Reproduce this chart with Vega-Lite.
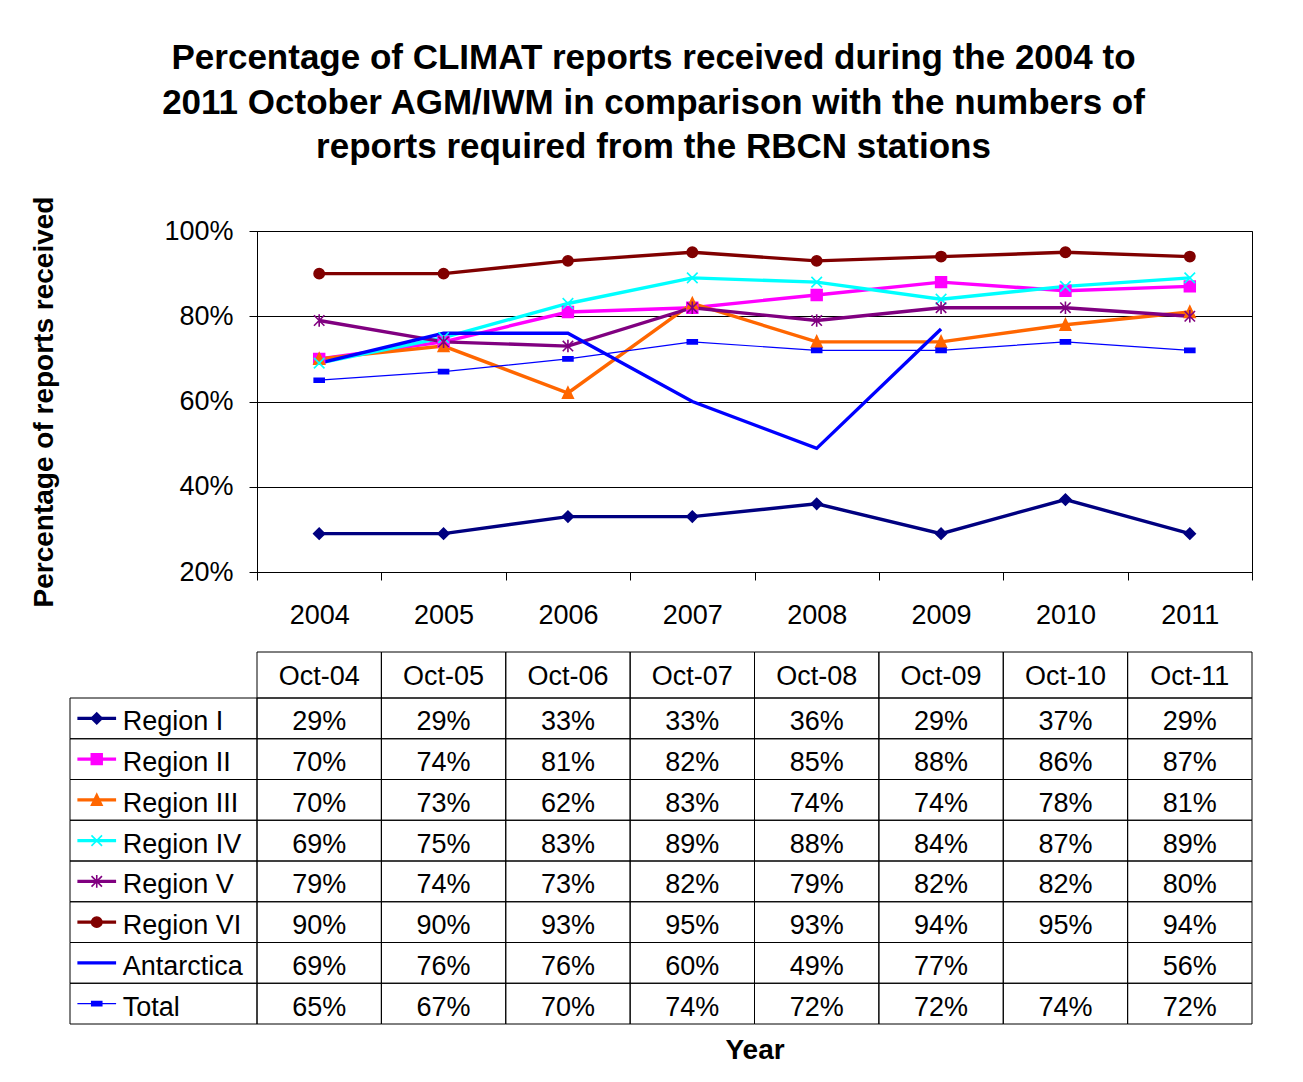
{
  "$schema": "https://vega.github.io/schema/vega-lite/v6.json",
  "width": 995,
  "height": 341,
  "autosize": {"type": "none"},
  "padding": {"left": 257, "top": 231, "right": 51, "bottom": 510},
  "background": "white",
  "title": {
    "text": ["Percentage of CLIMAT reports received during the 2004 to", "2011 October AGM/IWM in comparison with the numbers of", "reports required from the RBCN stations"],
    "font": "Liberation Sans",
    "fontSize": 35,
    "fontWeight": "bold",
    "color": "#000",
    "lineHeight": 44.5,
    "anchor": "middle",
    "dx": -101,
    "offset": 31
  },
  "config": {
    "font": "Liberation Sans",
    "view": {"stroke": "#000", "strokeWidth": 1}
  },
  "datasets": {
    "vals": [
      {"region": "Region I", "year": "2004", "value": 0.29},
      {"region": "Region I", "year": "2005", "value": 0.29},
      {"region": "Region I", "year": "2006", "value": 0.33},
      {"region": "Region I", "year": "2007", "value": 0.33},
      {"region": "Region I", "year": "2008", "value": 0.36},
      {"region": "Region I", "year": "2009", "value": 0.29},
      {"region": "Region I", "year": "2010", "value": 0.37},
      {"region": "Region I", "year": "2011", "value": 0.29},
      {"region": "Region II", "year": "2004", "value": 0.70},
      {"region": "Region II", "year": "2005", "value": 0.74},
      {"region": "Region II", "year": "2006", "value": 0.81},
      {"region": "Region II", "year": "2007", "value": 0.82},
      {"region": "Region II", "year": "2008", "value": 0.85},
      {"region": "Region II", "year": "2009", "value": 0.88},
      {"region": "Region II", "year": "2010", "value": 0.86},
      {"region": "Region II", "year": "2011", "value": 0.87},
      {"region": "Region III", "year": "2004", "value": 0.70},
      {"region": "Region III", "year": "2005", "value": 0.73},
      {"region": "Region III", "year": "2006", "value": 0.62},
      {"region": "Region III", "year": "2007", "value": 0.83},
      {"region": "Region III", "year": "2008", "value": 0.74},
      {"region": "Region III", "year": "2009", "value": 0.74},
      {"region": "Region III", "year": "2010", "value": 0.78},
      {"region": "Region III", "year": "2011", "value": 0.81},
      {"region": "Region IV", "year": "2004", "value": 0.69},
      {"region": "Region IV", "year": "2005", "value": 0.75},
      {"region": "Region IV", "year": "2006", "value": 0.83},
      {"region": "Region IV", "year": "2007", "value": 0.89},
      {"region": "Region IV", "year": "2008", "value": 0.88},
      {"region": "Region IV", "year": "2009", "value": 0.84},
      {"region": "Region IV", "year": "2010", "value": 0.87},
      {"region": "Region IV", "year": "2011", "value": 0.89},
      {"region": "Region V", "year": "2004", "value": 0.79},
      {"region": "Region V", "year": "2005", "value": 0.74},
      {"region": "Region V", "year": "2006", "value": 0.73},
      {"region": "Region V", "year": "2007", "value": 0.82},
      {"region": "Region V", "year": "2008", "value": 0.79},
      {"region": "Region V", "year": "2009", "value": 0.82},
      {"region": "Region V", "year": "2010", "value": 0.82},
      {"region": "Region V", "year": "2011", "value": 0.80},
      {"region": "Region VI", "year": "2004", "value": 0.90},
      {"region": "Region VI", "year": "2005", "value": 0.90},
      {"region": "Region VI", "year": "2006", "value": 0.93},
      {"region": "Region VI", "year": "2007", "value": 0.95},
      {"region": "Region VI", "year": "2008", "value": 0.93},
      {"region": "Region VI", "year": "2009", "value": 0.94},
      {"region": "Region VI", "year": "2010", "value": 0.95},
      {"region": "Region VI", "year": "2011", "value": 0.94},
      {"region": "Antarctica", "year": "2004", "value": 0.69},
      {"region": "Antarctica", "year": "2005", "value": 0.76},
      {"region": "Antarctica", "year": "2006", "value": 0.76},
      {"region": "Antarctica", "year": "2007", "value": 0.60},
      {"region": "Antarctica", "year": "2008", "value": 0.49},
      {"region": "Antarctica", "year": "2009", "value": 0.77},
      {"region": "Antarctica", "year": "2010", "value": null},
      {"region": "Antarctica", "year": "2011", "value": 0.56},
      {"region": "Total", "year": "2004", "value": 0.65},
      {"region": "Total", "year": "2005", "value": 0.67},
      {"region": "Total", "year": "2006", "value": 0.70},
      {"region": "Total", "year": "2007", "value": 0.74},
      {"region": "Total", "year": "2008", "value": 0.72},
      {"region": "Total", "year": "2009", "value": 0.72},
      {"region": "Total", "year": "2010", "value": 0.74},
      {"region": "Total", "year": "2011", "value": 0.72}
    ]
  },
  "data": {"name": "vals"},
  "resolve": {"scale": {"x": "independent", "y": "independent"}},
  "layer": [
    {
      "encoding": {
        "x": {
          "field": "year", "type": "nominal", "bandPosition": 0.5,
          "scale": {"type": "band", "domain": ["2004","2005","2006","2007","2008","2009","2010","2011"], "paddingInner": 0, "paddingOuter": 0},
          "axis": {
            "title": "Year", "labelAngle": 0, "labelFont": "Liberation Sans", "labelFontSize": 27, "labelColor": "#000",
            "tickBand": "extent", "tickSize": 8, "tickColor": "#000", "domainColor": "#000", "labelPadding": 22,
            "titleFont": "Liberation Sans", "titleFontSize": 28, "titleFontWeight": "bold", "titleColor": "#000", "titlePadding": 408,
            "grid": false
          }
        },
        "y": {
          "field": "value", "type": "quantitative",
          "scale": {"domain": [0.2, 1], "nice": false, "zero": false},
          "axis": {
            "title": "Percentage of reports received", "values": [0.2, 0.4, 0.6, 0.8, 1], "format": ".0%",
            "labelFont": "Liberation Sans", "labelFontSize": 27, "labelColor": "#000",
            "tickSize": 8, "tickColor": "#000", "domainColor": "#000", "labelPadding": 16,
            "grid": true, "gridColor": "#000", "gridOpacity": 1, "gridWidth": 1,
            "titleFont": "Liberation Sans", "titleFontSize": 28, "titleFontWeight": "bold", "titleColor": "#000", "titlePadding": 105
          }
        }
      },
      "layer": [
        {
          "mark": {"type": "line", "invalid": "break-paths-show-domains"},
          "encoding": {
            "stroke": {
              "field": "region", "type": "nominal", "legend": null,
              "scale": {"domain": ["Region I","Region II","Region III","Region IV","Region V","Region VI","Antarctica","Total"],
                        "range": ["#000080","#FF00FF","#FF6600","#00FFFF","#800080","#800000","#0000FF","#0000FF"]}
            },
            "strokeWidth": {"condition": {"test": "datum.region == 'Total'", "value": 1.2}, "value": 3.4}
          }
        },
        {
          "transform": [{"filter": "isValid(datum.value) && datum.region != 'Antarctica'"}],
          "mark": {"type": "point", "filled": true, "strokeWidth": 1.6, "opacity": 1},
          "encoding": {
            "fill": {
              "field": "region", "type": "nominal", "legend": null,
              "scale": {"domain": ["Region I","Region II","Region III","Region IV","Region V","Region VI","Antarctica","Total"],
                        "range": ["#000080","#FF00FF","#FF6600","#00FFFF","#800080","#800000","#0000FF","#0000FF"]}
            },
            "stroke": {"field": "region", "type": "nominal", "legend": null},
            "shape": {
              "field": "region", "type": "nominal", "legend": null,
              "scale": {"domain": ["Region I","Region II","Region III","Region IV","Region V","Region VI","Antarctica","Total"],
                        "range": ["diamond","square","M0,-1.1L1,1H-1Z","M-1,-1L1,1M-1,1L1,-1","M-1,-1L1,1M-1,1L1,-1M0,-1.2V1.2","circle","M-1,0H1","M-1,-0.4H1V0.4H-1Z"]}
            },
            "size": {
              "field": "region", "type": "nominal", "legend": null,
              "scale": {"domain": ["Region I","Region II","Region III","Region IV","Region V","Region VI","Antarctica","Total"],
                        "range": [120, 100, 130, 220, 220, 140, 1, 18]}
            }
          }
        }
      ]
    },
    {
      "transform": [{"filter": "datum.region == 'Region I'"}, {"calculate": "'Oct-' + slice(datum.year, 2)", "as": "hdr"}],
      "encoding": {
        "x": {
          "field": "year", "type": "nominal", "bandPosition": 0.5,
          "scale": {"type": "band", "domain": ["2004","2005","2006","2007","2008","2009","2010","2011"], "paddingInner": 0, "paddingOuter": 0},
          "axis": null
        },
        "y": {
          "datum": "hdr", "type": "nominal",
          "scale": {"type": "band", "domain": ["hdr"], "range": [421, 467], "paddingInner": 0, "paddingOuter": 0},
          "axis": null
        }
      },
      "layer": [
        {"mark": {"type": "rect", "filled": false, "stroke": "#000", "strokeWidth": 1}},
        {"mark": {"type": "text", "fontSize": 27, "font": "Liberation Sans", "color": "#000", "baseline": "middle", "align": "center", "dy": 2},
         "encoding": {"text": {"field": "hdr"}, "y": {"datum": "hdr", "type": "nominal", "bandPosition": 0.5}}}
      ]
    },
    {
      "encoding": {
        "x": {
          "field": "year", "type": "nominal", "bandPosition": 0.5,
          "scale": {"type": "band", "domain": ["2004","2005","2006","2007","2008","2009","2010","2011"], "paddingInner": 0, "paddingOuter": 0},
          "axis": null
        },
        "y": {
          "field": "region", "type": "nominal",
          "scale": {"type": "band", "domain": ["Region I","Region II","Region III","Region IV","Region V","Region VI","Antarctica","Total"], "range": [467, 793], "paddingInner": 0, "paddingOuter": 0},
          "axis": null
        }
      },
      "layer": [
        {"mark": {"type": "rect", "filled": false, "stroke": "#000", "strokeWidth": 1}},
        {"transform": [{"filter": "isValid(datum.value)"}],
         "mark": {"type": "text", "fontSize": 27, "font": "Liberation Sans", "color": "#000", "baseline": "middle", "align": "center", "dy": 4},
         "encoding": {"text": {"field": "value", "type": "quantitative", "format": ".0%"}, "y": {"field": "region", "type": "nominal", "bandPosition": 0.5}}}
      ]
    },
    {
      "transform": [{"filter": "datum.year == '2004'"}],
      "encoding": {
        "y": {
          "field": "region", "type": "nominal",
          "scale": {"type": "band", "domain": ["Region I","Region II","Region III","Region IV","Region V","Region VI","Antarctica","Total"], "range": [467, 793], "paddingInner": 0, "paddingOuter": 0},
          "axis": null
        }
      },
      "layer": [
        {"mark": {"type": "rect", "filled": false, "stroke": "#000", "strokeWidth": 1},
         "encoding": {"x": {"datum": "label", "type": "nominal", "scale": {"type": "band", "domain": ["label"], "range": [-187, 0], "paddingInner": 0, "paddingOuter": 0}, "axis": null}}},
        {"mark": {"type": "point", "shape": "M-1,0H1", "size": 1498, "filled": false, "opacity": 1},
         "encoding": {
           "x": {"datum": "label", "type": "nominal", "bandPosition": 0.143},
           "y": {"field": "region", "type": "nominal", "bandPosition": 0.5},
           "stroke": {"field": "region", "type": "nominal", "legend": null,
              "scale": {"domain": ["Region I","Region II","Region III","Region IV","Region V","Region VI","Antarctica","Total"],
                        "range": ["#000080","#FF00FF","#FF6600","#00FFFF","#800080","#800000","#0000FF","#0000FF"]}},
           "strokeWidth": {"condition": {"test": "datum.region == 'Total'", "value": 1.2}, "value": 3.4}
         }},
        {"transform": [{"filter": "datum.region != 'Antarctica'"}],
         "mark": {"type": "point", "filled": true, "strokeWidth": 1.6, "opacity": 1},
         "encoding": {
           "x": {"datum": "label", "type": "nominal", "bandPosition": 0.143},
           "y": {"field": "region", "type": "nominal", "bandPosition": 0.5},
           "fill": {"field": "region", "type": "nominal", "legend": null,
              "scale": {"domain": ["Region I","Region II","Region III","Region IV","Region V","Region VI","Antarctica","Total"],
                        "range": ["#000080","#FF00FF","#FF6600","#00FFFF","#800080","#800000","#0000FF","#0000FF"]}},
           "stroke": {"field": "region", "type": "nominal", "legend": null},
           "shape": {"field": "region", "type": "nominal", "legend": null,
              "scale": {"domain": ["Region I","Region II","Region III","Region IV","Region V","Region VI","Antarctica","Total"],
                        "range": ["diamond","square","M0,-1.1L1,1H-1Z","M-1,-1L1,1M-1,1L1,-1","M-1,-1L1,1M-1,1L1,-1M0,-1.2V1.2","circle","M-1,0H1","M-1,-0.4H1V0.4H-1Z"]}},
           "size": {"field": "region", "type": "nominal", "legend": null,
              "scale": {"domain": ["Region I","Region II","Region III","Region IV","Region V","Region VI","Antarctica","Total"],
                        "range": [120, 100, 130, 220, 220, 140, 1, 18]}}
         }},
        {"mark": {"type": "text", "fontSize": 27, "font": "Liberation Sans", "color": "#000", "baseline": "middle", "align": "left", "dy": 4},
         "encoding": {
           "x": {"datum": "label", "type": "nominal", "bandPosition": 0.282},
           "y": {"field": "region", "type": "nominal", "bandPosition": 0.5},
           "text": {"field": "region"}
         }}
      ]
    }
  ]
}
